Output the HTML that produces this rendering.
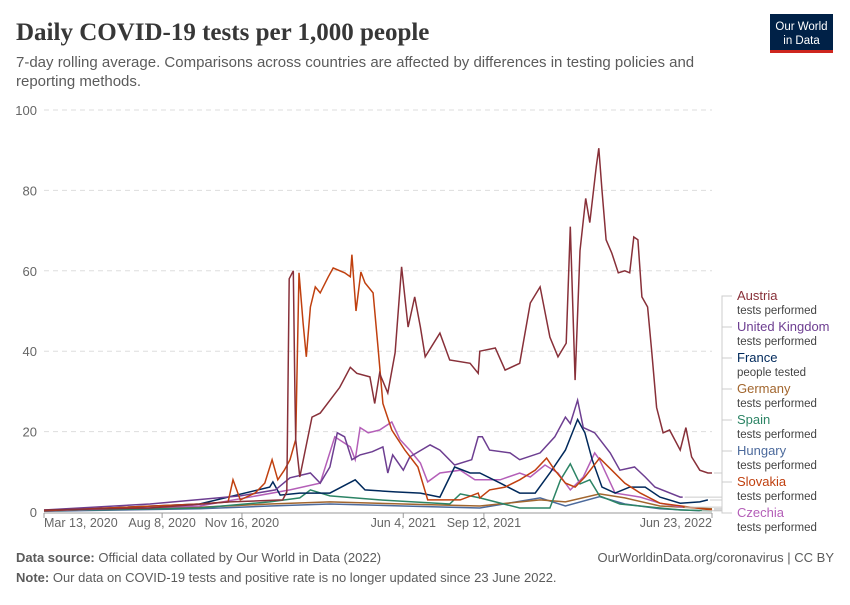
<!DOCTYPE html>
<html><head><meta charset="utf-8"><style>
body{margin:0;background:#fff;width:850px;height:600px;overflow:hidden;font-family:"Liberation Sans",sans-serif}
</style></head><body>
<svg id="chart" width="850" height="600" xmlns="http://www.w3.org/2000/svg" font-family="Liberation Sans, sans-serif">
<text x="16" y="40" font-family="Liberation Serif, serif" font-size="25" font-weight="bold" fill="#373737">Daily COVID-19 tests per 1,000 people</text>
<text x="16" y="67" font-size="15" fill="#5b5b5b">7-day rolling average. Comparisons across countries are affected by differences in testing policies and</text>
<text x="16" y="86" font-size="15" fill="#5b5b5b">reporting methods.</text>
<g>
<rect x="770" y="14" width="63" height="38" fill="#002147"/>
<rect x="770" y="50" width="63" height="3" fill="#ce261e"/>
<text x="801.5" y="30" font-size="11.5" fill="#fff" text-anchor="middle">Our World</text>
<text x="801.5" y="44" font-size="11.5" fill="#fff" text-anchor="middle">in Data</text>
</g>
<g id="grid"></g><g id="series"></g><g id="legend"></g>
<text x="16" y="562" font-size="13" fill="#5b5b5b"><tspan font-weight="bold">Data source:</tspan> Official data collated by Our World in Data (2022)</text>
<text x="834" y="562" font-size="13" fill="#5b5b5b" text-anchor="end">OurWorldinData.org/coronavirus | CC BY</text>
<text x="16" y="582" font-size="13" fill="#5b5b5b"><tspan font-weight="bold">Note:</tspan> Our data on COVID-19 tests and positive rate is no longer updated since 23 June 2022.</text>
</svg>
<script>
const yTicks=[0,20,40,60,80,100];
const xTickDays=[0,145,243,441,540,820];
const xTickLabels=["Mar 13, 2020","Aug 8, 2020","Nov 16, 2020","Jun 4, 2021","Sep 12, 2021","Jun 23, 2022"];
const austriaDays=[0,130,228,293,298,301,306,308,309,314,329,339,363,376,384,400,406,412,422,431,439,447,455,462,468,486,498,523,533,535,554,566,584,597,609,621,631,641,646,652,658,665,670,678,681,685,690,697,705,713,719,724,729,734,741,746,752,760,768,781,788,795,805,815,820];
const austriaVals=[0.5,1,2.5,3,5,58,60,30,18,8.7,23.6,24.6,31,36,34.5,33.6,27,34.5,29.6,39.6,61,46,53.5,46,38.6,44.5,37.8,37,34.5,40,40.8,35.3,37,52,56,43.5,38.6,42,71,32.8,65,78,72,86,90.5,80,67.7,64.4,59.5,60,59.5,68.4,67.7,53.5,51,40,26,19.7,20.4,15.4,21,13.7,10.4,9.7,9.7];
const slovakiaDays=[0,191,226,232,241,259,271,280,287,295,302,309,313,318,322,327,333,339,349,355,369,376,378,383,389,394,404,410,416,427,443,459,471,511,533,535,547,566,584,603,617,627,640,652,664,682,697,713,732,756,820];
const slovakiaVals=[0.3,2,2.5,8,3,4.7,7.2,13,8,10.4,13,18,59.5,47,38.6,51,56,54.5,58.5,60.7,59.5,58.5,64,50,59.7,57,54.5,41,27,20.4,15.4,11.2,3,3,4.7,3.5,5.5,6.2,8,10.4,13.4,10.4,7.2,6.2,8.7,13.4,10.4,7.2,4.7,2.2,0.5];
const ukDays=[0,130,241,284,302,327,339,351,360,369,378,388,403,416,422,428,441,449,474,486,504,525,533,538,547,572,584,609,627,640,646,655,662,676,695,707,725,738,750,781,784];
const ukVals=[0.5,2,4,5.5,8.5,9.7,7.2,11.2,19.7,18.7,13,14.2,15,16.2,9.7,14.2,10.4,13.7,16.7,15.4,11.7,13,18.7,18.7,15.4,14.7,13,14.7,18.7,23.6,22,27.8,21,19.7,14.7,10.4,11.2,8.7,6.2,3.7,3.7];
const franceDays=[0,191,277,281,290,314,351,382,394,431,462,486,504,523,535,560,584,603,621,640,655,664,673,685,701,719,738,756,781,805,815];
const franceVals=[0.3,2,6.2,7.5,4.2,4.7,4.7,8,5.5,5,4.7,3.7,11.2,9.7,9.7,7.2,4.7,4.7,9.7,15.4,23,19.7,13,6.2,4.7,6.2,6.2,3.7,2.2,2.5,3];
const czechiaDays=[0,191,302,339,357,376,382,388,398,412,427,437,449,462,471,486,511,529,535,560,584,597,615,631,646,662,676,682,701,732,756,784];
const czechiaVals=[0.3,1.5,5.5,7.2,18.7,16.2,13,21,19.7,20.4,22.4,18,15.4,12.2,7.5,9.7,10.4,8,8,8,9.7,8.7,11.7,9.7,5.5,8.7,14.7,13,4.7,3.7,2.2,1.2];
const spainDays=[0,191,277,314,327,351,412,498,511,535,584,621,634,646,658,670,682,707,781,820];
const spainVals=[0.3,1,2.5,3.5,5.5,4,3,2,4.5,3.5,1,1,8,12,7,8,4,2,0.5,0.3];
const germanyDays=[0,191,277,351,441,535,609,640,682,713,756,820];
const germanyVals=[0.3,1.2,2,2.5,2,1.5,3,2.5,4.5,3.5,1.5,0.8];
const hungaryDays=[0,191,277,351,441,535,609,640,682,713,756,805];
const hungaryVals=[0.2,0.8,1.5,2,1.5,1,3.5,1.5,3.8,2,0.8,0.3];

const X0=44,X1=712,Y0=512,Y1=110,DMAX=820;
const xs=d=>X0+(d/DMAX)*(X1-X0);
const ys=v=>Y0-(v/100)*(Y0-Y1);
const NS="http://www.w3.org/2000/svg";
function mk(tag,parent){const e=document.createElementNS(NS,tag);parent.appendChild(e);return e;}
const grid=document.getElementById('grid');
yTicks.forEach(t=>{
  if(t>0){const l=mk('line',grid);
  
  
  l.setAttribute('x1',X0);l.setAttribute('x2',X1);l.setAttribute('y1',ys(t));l.setAttribute('y2',ys(t));
  l.setAttribute('stroke','#ddd');l.setAttribute('stroke-dasharray','5,4');}
  const tx=mk('text',grid);
  
  
  tx.setAttribute('x',37);tx.setAttribute('y',ys(t)+5);tx.setAttribute('text-anchor','end');
  tx.setAttribute('font-size','13');tx.setAttribute('fill','#666');tx.textContent=t;
});
const ax=mk('line',grid);


ax.setAttribute('x1',X0);ax.setAttribute('x2',X1);ax.setAttribute('y1',Y0+1);ax.setAttribute('y2',Y0+1);ax.setAttribute('stroke','#999');
xTickDays.forEach((d,i)=>{
  const l=mk('line',grid);
  
  
  l.setAttribute('x1',xs(d));l.setAttribute('x2',xs(d));l.setAttribute('y1',Y0+1);l.setAttribute('y2',Y0+6);l.setAttribute('stroke','#999');
  const t=mk('text',grid);
  
  
  t.setAttribute('x',xs(d));t.setAttribute('y',527);
  t.setAttribute('text-anchor',i===0?'start':(i===xTickDays.length-1?'end':'middle'));
  t.setAttribute('font-size','12.5');t.setAttribute('fill','#666');t.textContent=xTickLabels[i];});

const series=[
 ['hungary',hungaryDays,hungaryVals,'#4c6a9c','Hungary',455],
 ['germany',germanyDays,germanyVals,'#a2662e','Germany',393],
 ['spain',spainDays,spainVals,'#2c8465','Spain',424],
 ['czechia',czechiaDays,czechiaVals,'#b45fb8','Czechia',517],
 ['france',franceDays,franceVals,'#00295b','France',362],
 ['uk',ukDays,ukVals,'#6d3e91','United Kingdom',331],
 ['slovakia',slovakiaDays,slovakiaVals,'#c0400f','Slovakia',486],
 ['austria',austriaDays,austriaVals,'#883039','Austria',300]
];
const sg=document.getElementById('series'),lg=document.getElementById('legend');
series.forEach(s=>{
  const p=mk('path',sg);
  
  
  p.setAttribute('d',s[1].map((d,i)=>(i?'L':'M')+xs(d).toFixed(1)+','+ys(s[2][i]).toFixed(1)).join(''));
  p.setAttribute('fill','none');p.setAttribute('stroke',s[3]);p.setAttribute('stroke-width','1.5');
  const ex=xs(s[1][s[1].length-1]),ey=ys(s[2][s[2].length-1]);
  const c=mk('path',lg);
  
  
  c.setAttribute('d','M'+(ex+2)+','+ey+'L722,'+ey+'L722,'+(s[5]-4)+'L732,'+(s[5]-4));
  c.setAttribute('fill','none');c.setAttribute('stroke','#ccc');
  const t=mk('text',lg);
  
  
  t.setAttribute('x',737);t.setAttribute('y',s[5]);t.setAttribute('font-size','13');t.setAttribute('fill',s[3]);t.textContent=s[4];
  const t2=mk('text',lg);
  
  
  t2.setAttribute('x',737);t2.setAttribute('y',s[5]+14);t2.setAttribute('font-size','11.5');t2.setAttribute('fill','#444');
  t2.textContent=s[0]==='france'?'people tested':'tests performed';
});
</script>
</body></html>
